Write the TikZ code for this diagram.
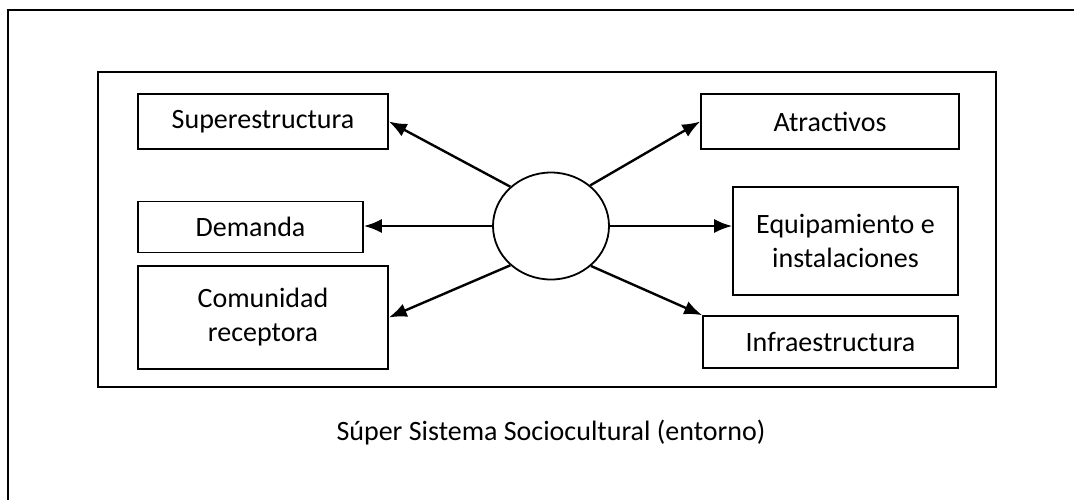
\documentclass[tikz,border=0pt]{standalone}
\usepackage{fontspec}
\setmainfont{Carlito}
\usetikzlibrary{arrows.meta,shapes.geometric}
\tikzset{
	caja/.style={draw,line width=0.8pt,inner sep=2pt,align=center},
	flecha/.style={->,line width=1.2pt}
}
\begin{document}
\begin{tikzpicture}[>={Latex[length=9pt,width=7pt]},font=\fontsize{14}{17}\selectfont,x=0.5pt,y=-0.5pt]
	\useasboundingbox (0,0) rectangle (1074,500);
	\draw [line width=0.9pt] (8,500) -- (8,10) -- (1074,10);
	\draw [line width=0.9pt] (98,72) rectangle (996,387);

	\node [caja,minimum width=125pt,minimum height=27.5pt] (sup) at (263,121.5) {Superestructura};
	\node [caja,minimum width=112.5pt,minimum height=25.5pt] (dem) at (250.5,227) {Demanda};
	\node [caja,minimum width=125pt,minimum height=51.5pt] (com) at (263,317.5) {Comunidad\\receptora};
	\node [caja,minimum width=129pt,minimum height=27.5pt] (atr) at (830,121.5) {Atractivos};
	\node [caja,minimum width=112.5pt,minimum height=54pt] (equ) at (845.5,241) {Equipamiento e\\instalaciones};
	\node [caja,minimum width=127.5pt,minimum height=26pt] (inf) at (830.5,342) {Infraestructura};

	\node [ellipse,draw,line width=0.9pt,minimum width=58pt,minimum height=53.5pt] (c) at (551,226) {};

	\foreach \desde/\hasta in {c.136/sup.east, c.224/com.east,
		c.46/atr.west, c.-45/inf.north west}
		\draw [flecha] (\desde) -- (\hasta);
	\draw [flecha] (c.west) -- (c.west -| dem.east);
	\draw [flecha] (c.east) -- (c.east -| equ.west);

	\node (entorno) at (551,432) {Súper Sistema Sociocultural (entorno)};
\end{tikzpicture}
\end{document}
